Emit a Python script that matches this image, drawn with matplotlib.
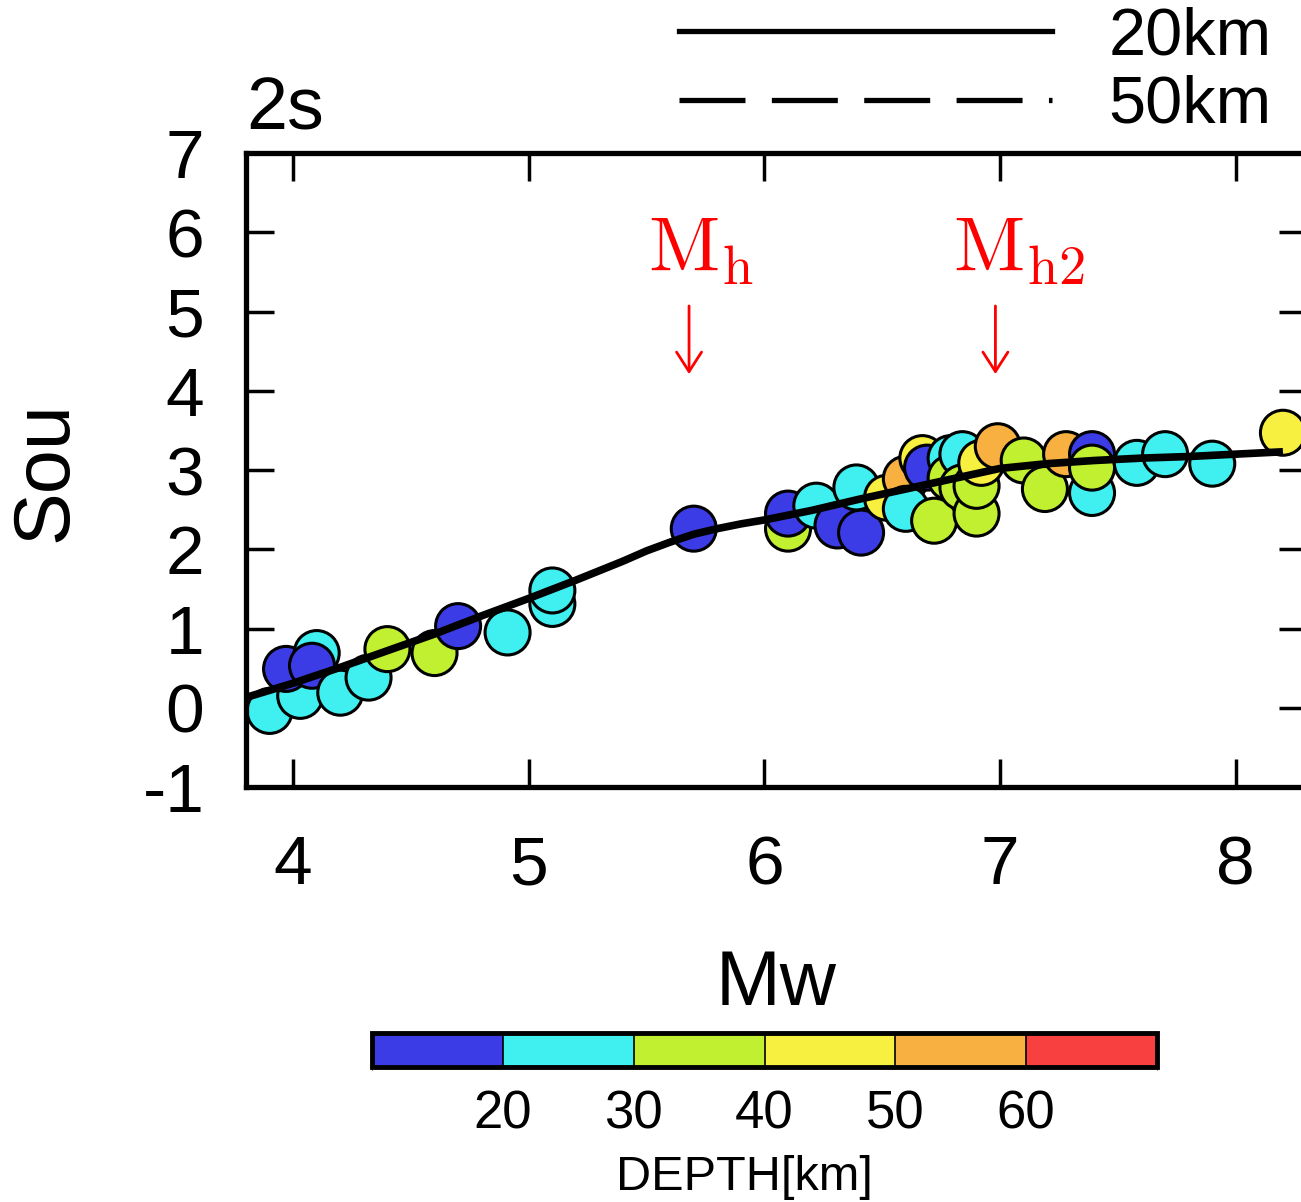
import matplotlib
matplotlib.use("Agg")
import matplotlib.pyplot as plt
import numpy as np
from matplotlib.colors import ListedColormap, BoundaryNorm
from matplotlib.lines import Line2D
import matplotlib.colorbar as mcolorbar

plt.rcParams['font.family'] = ['Liberation Sans', 'DejaVu Sans']
plt.rcParams['mathtext.fontset'] = 'cm'
plt.rcParams['axes.unicode_minus'] = False

# Observed points: magnitude, source term, depth (km)
mw = [3.90, 4.03, 3.97, 4.10, 4.08, 4.20, 4.32, 4.40, 4.60, 4.70, 4.91, 5.10, 5.10,
      5.70, 6.10, 6.10, 6.22, 6.31, 6.41, 6.39, 6.52, 6.60, 6.60, 6.67, 6.69, 6.72,
      6.79, 6.79, 6.84, 6.84, 6.90, 6.90, 6.92, 6.99, 7.10, 7.19, 7.28, 7.39, 7.39,
      7.39, 7.58, 7.70, 7.90, 8.20]
sou = [-0.04, 0.15, 0.49, 0.69, 0.53, 0.19, 0.38, 0.74, 0.69, 1.03, 0.95, 1.31, 1.48,
       2.26, 2.26, 2.45, 2.55, 2.30, 2.21, 2.78, 2.65, 2.89, 2.51, 3.15, 3.03, 2.36,
       3.15, 2.90, 3.20, 2.78, 2.45, 2.80, 3.09, 3.30, 3.12, 2.76, 3.20, 3.20, 2.71,
       3.03, 3.09, 3.20, 3.08, 3.47]
depth = [25, 25, 15, 25, 15, 25, 25, 35, 35, 15, 25, 25, 25,
         15, 35, 15, 25, 15, 15, 25, 45, 55, 25, 45, 15, 35,
         25, 35, 25, 35, 35, 35, 45, 55, 35, 35, 55, 15, 25,
         35, 25, 25, 25, 45]

# Model curve (20 km)
curve_mw = [3.8, 4.0, 4.2, 4.4, 4.6, 4.8, 5.0, 5.2, 5.4, 5.5, 5.6, 5.7, 5.8, 5.9,
            6.0, 6.2, 6.4, 6.6, 6.8, 7.0, 7.2, 7.4, 7.6, 7.8, 8.0, 8.2]
curve_sou = [0.13, 0.31, 0.51, 0.72, 0.93, 1.16, 1.38, 1.61, 1.85, 1.98, 2.09, 2.19,
             2.26, 2.32, 2.37, 2.49, 2.63, 2.76, 2.89, 3.02, 3.08, 3.12, 3.15, 3.17,
             3.20, 3.23]

depth_bounds = [10, 20, 30, 40, 50, 60, 70]
depth_ticks = [20, 30, 40, 50, 60]
depth_colors = ['#3c3ce6', '#40f0f0', '#c0f030', '#f8f040', '#f8b040', '#f84040']

cmap = ListedColormap(depth_colors)
norm = BoundaryNorm(depth_bounds, cmap.N)

W, H = 1301, 1202
fig = plt.figure(figsize=(W / 100, H / 100), dpi=100)

def px2fig(x0, y0, x1, y1):
    return [x0 / W, 1 - y1 / H, (x1 - x0) / W, (y1 - y0) / H]

ax = fig.add_axes(px2fig(246, 153, 1306.5, 787))
ax.scatter(mw, sou, c=depth, cmap=cmap, norm=norm, s=1050,
           edgecolors='black', linewidths=2.2, zorder=2)
ax.plot(curve_mw, curve_sou, color='black', lw=5.5, zorder=3,
        solid_capstyle='butt', solid_joinstyle='round')

ax.set_xlim(3.8, 8.3)
ax.set_ylim(-1, 7)
ax.set_xticks([4, 5, 6, 7, 8])
ax.set_yticks(range(-1, 8))
ax.tick_params(direction='in', length=20, width=2.5, top=True, right=True,
               labelsize=50)
ax.tick_params(axis='y', pad=30)
ax.tick_params(axis='x', pad=34)
for s in ax.spines.values():
    s.set_linewidth(3.8)
ax.spines['right'].set_visible(False)

ax.set_xlabel('Mw', fontsize=56, labelpad=36)
ax.set_ylabel('Sou', fontsize=57)
ax.yaxis.set_label_coords(-0.153, 0.497)

ax.text(0.0, 1.014, '2s', transform=ax.transAxes, fontsize=53,
        ha='left', va='bottom')

# Mh annotations
for xm, lab in [(5.73, r'$\mathrm{M_h}$'), (7.08, r'$\mathrm{M_{h2}}$')]:
    ax.text(xm, 5.5, lab, color='red', fontsize=56, ha='center', va='baseline')
for xa in [5.68, 6.98]:
    ax.annotate('', xy=(xa, 4.21), xytext=(xa, 5.07),
                arrowprops=dict(arrowstyle='->,head_length=0.7,head_width=0.45',
                                color='red', lw=2.0, shrinkA=0, shrinkB=0,
                                mutation_scale=20))

# Legend
handles = [Line2D([], [], color='black', lw=3.8),
           Line2D([], [], color='black', lw=3.8, linestyle=(0, (12.5, 5)))]
fig.legend(handles, ['20km', '50km'], loc='upper right',
           bbox_to_anchor=(0.998, 1.017), frameon=False, fontsize=48,
           handlelength=5.6, handletextpad=0.85, labelspacing=0.1,
           borderaxespad=0)

# Colorbar
cax = fig.add_axes(px2fig(372, 1033, 1157, 1067))
cb = mcolorbar.ColorbarBase(cax, cmap=cmap, norm=norm, orientation='horizontal',
                            boundaries=depth_bounds, ticks=depth_ticks,
                            drawedges=True)
cb.outline.set_linewidth(3.5)
cb.dividers.set_linewidth(1.2)
cax.tick_params(length=0, pad=16, labelsize=38)
cb.set_label('DEPTH[km]', fontsize=35, va='top')
cax.xaxis.set_label_coords(0.475, -2.6)

fig.savefig('out.png', dpi=100)
